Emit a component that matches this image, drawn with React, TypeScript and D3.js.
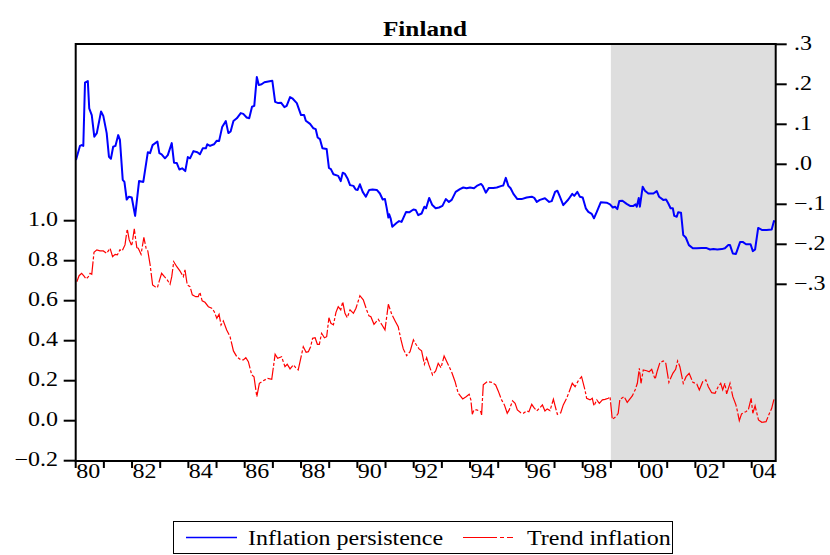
import React from "react";
import * as d3 from "d3";

// Inflation persistence (right axis)
const persistenceDates = [
  1980.01, 1980.15, 1980.21, 1980.27, 1980.33, 1980.43, 1980.48, 1980.57, 1980.66, 1980.75,
  1980.9, 1980.98, 1981.1, 1981.18, 1981.25, 1981.33, 1981.41, 1981.51, 1981.57, 1981.67,
  1981.73, 1981.81, 1981.89, 1981.99, 1982.11, 1982.25, 1982.4, 1982.56, 1982.64, 1982.73,
  1982.9, 1982.97, 1983.05, 1983.17, 1983.27, 1983.41, 1983.49, 1983.59, 1983.68, 1983.78,
  1983.89, 1983.98, 1984.06, 1984.18, 1984.32, 1984.41, 1984.51, 1984.62, 1984.67, 1984.77,
  1984.91, 1985.01, 1985.09, 1985.2, 1985.33, 1985.42, 1985.5, 1985.6, 1985.72, 1985.86,
  1985.95, 1986.07, 1986.16, 1986.26, 1986.34, 1986.43, 1986.5, 1986.6, 1986.7, 1986.84,
  1986.98, 1987.08, 1987.19, 1987.29, 1987.41, 1987.49, 1987.61, 1987.69, 1987.85, 1988.0,
  1988.11, 1988.17, 1988.32, 1988.44, 1988.52, 1988.59, 1988.67, 1988.76, 1988.91, 1988.99,
  1989.06, 1989.15, 1989.32, 1989.41, 1989.48, 1989.56, 1989.66, 1989.74, 1989.86, 1989.94,
  1990.01, 1990.09, 1990.19, 1990.3, 1990.42, 1990.54, 1990.69, 1990.8, 1990.9, 1990.98,
  1991.04, 1991.1, 1991.13, 1991.18, 1991.24, 1991.4, 1991.48, 1991.57, 1991.73, 1991.84,
  1991.99, 1992.07, 1992.16, 1992.28, 1992.38, 1992.44, 1992.55, 1992.66, 1992.78, 1992.9,
  1993.02, 1993.14, 1993.25, 1993.35, 1993.49, 1993.64, 1993.76, 1993.88, 1994.0, 1994.14,
  1994.24, 1994.39, 1994.45, 1994.56, 1994.67, 1994.83, 1994.95, 1995.12, 1995.18, 1995.27,
  1995.36, 1995.44, 1995.54, 1995.68, 1995.83, 1996.01, 1996.19, 1996.28, 1996.37, 1996.48,
  1996.66, 1996.81, 1996.9, 1997.02, 1997.1, 1997.19, 1997.31, 1997.49, 1997.63, 1997.7,
  1997.81, 1997.9, 1998.0, 1998.11, 1998.2, 1998.32, 1998.4, 1998.5, 1998.64, 1998.85,
  1998.97, 1999.07, 1999.15, 1999.23, 1999.3, 1999.41, 1999.56, 1999.68, 1999.8, 1999.88,
  1999.92, 1999.99, 2000.03, 2000.13, 2000.21, 2000.33, 2000.51, 2000.63, 2000.71, 2000.86,
  2000.96, 2001.04, 2001.12, 2001.2, 2001.25, 2001.34, 2001.39, 2001.49, 2001.57, 2001.66,
  2001.77, 2001.91, 2002.05, 2002.22, 2002.38, 2002.52, 2002.64, 2002.78, 2002.94, 2003.05,
  2003.17, 2003.23, 2003.33, 2003.44, 2003.59, 2003.68, 2003.8, 2003.96, 2004.04, 2004.12,
  2004.23, 2004.36, 2004.53, 2004.71, 2004.79, 2004.83,
];
const persistenceValues = [
  0.011, 0.046, 0.048, 0.046, 0.204, 0.208, 0.14, 0.123, 0.069, 0.078,
  0.132, 0.121, 0.078, 0.019, 0.014, 0.044, 0.046, 0.073, 0.061, -0.039,
  -0.044, -0.088, -0.081, -0.083, -0.129, -0.042, -0.044, 0.03, 0.028, 0.048,
  0.057, 0.028, 0.025, 0.015, 0.023, 0.053, 0.004, 0.003, -0.013, -0.01,
  -0.017, 0.018, 0.015, 0.033, 0.03, 0.025, 0.04, 0.04, 0.05, 0.046,
  0.05, 0.059, 0.058, 0.093, 0.108, 0.078, 0.082, 0.108, 0.115, 0.128,
  0.126, 0.117, 0.115, 0.144, 0.146, 0.218, 0.198, 0.2, 0.205, 0.207,
  0.209, 0.156, 0.153, 0.154, 0.143, 0.146, 0.168, 0.165, 0.153, 0.123,
  0.123, 0.109, 0.101, 0.09, 0.088, 0.067, 0.063, 0.04, 0.038, -0.009,
  -0.012, -0.025, -0.029, -0.042, -0.021, -0.024, -0.037, -0.052, -0.054, -0.063,
  -0.064, -0.05, -0.069, -0.081, -0.064, -0.063, -0.064, -0.073, -0.088, -0.087,
  -0.109, -0.133, -0.125, -0.135, -0.156, -0.146, -0.142, -0.144, -0.119, -0.12,
  -0.113, -0.114, -0.127, -0.123, -0.106, -0.11, -0.084, -0.102, -0.11, -0.108,
  -0.104, -0.087, -0.094, -0.089, -0.069, -0.062, -0.058, -0.06, -0.058, -0.06,
  -0.054, -0.049, -0.054, -0.071, -0.059, -0.059, -0.058, -0.054, -0.053, -0.034,
  -0.054, -0.06, -0.074, -0.087, -0.087, -0.083, -0.081, -0.084, -0.094, -0.089,
  -0.085, -0.094, -0.092, -0.069, -0.066, -0.081, -0.102, -0.088, -0.074, -0.079,
  -0.069, -0.081, -0.083, -0.11, -0.119, -0.124, -0.135, -0.119, -0.095, -0.096,
  -0.1, -0.108, -0.106, -0.112, -0.092, -0.091, -0.099, -0.104, -0.104, -0.1,
  -0.106, -0.084, -0.106, -0.056, -0.066, -0.073, -0.073, -0.067, -0.081, -0.089,
  -0.088, -0.098, -0.11, -0.11, -0.129, -0.131, -0.12, -0.121, -0.177, -0.183,
  -0.202, -0.21, -0.21, -0.209, -0.209, -0.213, -0.212, -0.213, -0.212, -0.21,
  -0.202, -0.202, -0.223, -0.224, -0.194, -0.194, -0.2, -0.2, -0.217, -0.213,
  -0.159, -0.164, -0.164, -0.163, -0.142, -0.144,
];

// Trend inflation (left axis)
const trendDates = [
  1980.04, 1980.12, 1980.21, 1980.29, 1980.37, 1980.45, 1980.51, 1980.57, 1980.65, 1980.75,
  1980.86, 1980.98, 1981.1, 1981.22, 1981.31, 1981.4, 1981.48, 1981.57, 1981.65, 1981.75,
  1981.83, 1981.9, 1981.99, 1982.08, 1982.17, 1982.22, 1982.32, 1982.42, 1982.5, 1982.56,
  1982.64, 1982.73, 1982.82, 1982.9, 1982.96, 1983.05, 1983.15, 1983.25, 1983.35, 1983.41,
  1983.48, 1983.59, 1983.7, 1983.82, 1983.88, 1983.96, 1984.06, 1984.14, 1984.26, 1984.35,
  1984.41, 1984.49, 1984.59, 1984.71, 1984.83, 1984.92, 1985.01, 1985.09, 1985.16, 1985.24,
  1985.36, 1985.48, 1985.6, 1985.72, 1985.86, 1985.95, 1986.04, 1986.13, 1986.25, 1986.33,
  1986.43, 1986.52, 1986.66, 1986.82, 1986.96, 1987.08, 1987.17, 1987.31, 1987.43, 1987.51,
  1987.61, 1987.73, 1987.81, 1987.9, 1988.08, 1988.18, 1988.26, 1988.34, 1988.41, 1988.5,
  1988.58, 1988.65, 1988.73, 1988.83, 1988.91, 1988.99, 1989.06, 1989.15, 1989.24, 1989.32,
  1989.41, 1989.48, 1989.56, 1989.64, 1989.74, 1989.86, 1989.95, 1990.09, 1990.21, 1990.33,
  1990.41, 1990.48, 1990.59, 1990.74, 1990.86, 1990.98, 1991.1, 1991.22, 1991.34, 1991.45,
  1991.55, 1991.63, 1991.75, 1991.87, 1991.99, 1992.08, 1992.19, 1992.28, 1992.38, 1992.46,
  1992.54, 1992.67, 1992.78, 1992.87, 1992.97, 1993.08, 1993.23, 1993.35, 1993.47, 1993.58,
  1993.74, 1993.86, 1993.97, 1994.03, 1994.08, 1994.14, 1994.24, 1994.38, 1994.41, 1994.47,
  1994.61, 1994.77, 1994.91, 1995.0, 1995.12, 1995.22, 1995.32, 1995.39, 1995.51, 1995.6,
  1995.68, 1995.8, 1995.89, 1996.01, 1996.09, 1996.19, 1996.27, 1996.37, 1996.48, 1996.57,
  1996.66, 1996.74, 1996.84, 1996.96, 1997.02, 1997.1, 1997.22, 1997.31, 1997.43, 1997.52,
  1997.63, 1997.73, 1997.84, 1997.96, 1998.08, 1998.14, 1998.26, 1998.34, 1998.4, 1998.5,
  1998.59, 1998.7, 1998.79, 1998.91, 1998.97, 1999.05, 1999.18, 1999.26, 1999.32, 1999.47,
  1999.58, 1999.76, 1999.86, 1999.94, 2000.01, 2000.07, 2000.15, 2000.27, 2000.36, 2000.45,
  2000.57, 2000.65, 2000.74, 2000.86, 2000.95, 2001.06, 2001.2, 2001.3, 2001.37, 2001.45,
  2001.57, 2001.67, 2001.78, 2001.91, 2002.05, 2002.14, 2002.26, 2002.37, 2002.46, 2002.58,
  2002.7, 2002.81, 2002.9, 2002.97, 2003.05, 2003.11, 2003.23, 2003.33, 2003.44, 2003.49,
  2003.56, 2003.64, 2003.79, 2003.88, 2003.98, 2004.04, 2004.12, 2004.24, 2004.36, 2004.51,
  2004.62, 2004.71, 2004.79,
];
const trendValues = [
  0.695, 0.725, 0.737, 0.724, 0.709, 0.72, 0.737, 0.732, 0.842, 0.854,
  0.849, 0.849, 0.837, 0.862, 0.82, 0.832, 0.829, 0.854, 0.849, 0.879,
  0.959, 0.904, 0.874, 0.959, 0.865, 0.862, 0.832, 0.917, 0.862, 0.849,
  0.782, 0.679, 0.67, 0.665, 0.695, 0.737, 0.72, 0.704, 0.682, 0.72,
  0.795, 0.77, 0.749, 0.72, 0.754, 0.679, 0.67, 0.629, 0.62, 0.62,
  0.642, 0.599, 0.592, 0.57, 0.562, 0.545, 0.512, 0.532, 0.479, 0.499,
  0.454, 0.42, 0.349, 0.32, 0.304, 0.304, 0.315, 0.295, 0.229, 0.22,
  0.12, 0.187, 0.2, 0.212, 0.207, 0.332, 0.312, 0.32, 0.27, 0.282,
  0.259, 0.279, 0.265, 0.254, 0.37, 0.342, 0.345, 0.37, 0.412, 0.415,
  0.382, 0.382, 0.437, 0.415, 0.42, 0.515, 0.487, 0.479, 0.542, 0.57,
  0.554, 0.595, 0.537, 0.515, 0.554, 0.537, 0.562, 0.625, 0.604, 0.554,
  0.524, 0.52, 0.482, 0.507, 0.482, 0.454, 0.582, 0.532, 0.499, 0.47,
  0.404, 0.359, 0.325, 0.345, 0.404, 0.382, 0.359, 0.349, 0.282, 0.315,
  0.279, 0.229, 0.249, 0.287, 0.265, 0.324, 0.279, 0.242, 0.195, 0.137,
  0.109, 0.12, 0.132, 0.104, 0.032, 0.054, 0.054, 0.045, 0.029, 0.179,
  0.195, 0.192, 0.179, 0.149, 0.104, 0.079, 0.037, 0.054, 0.099, 0.087,
  0.054, 0.04, 0.037, 0.049, 0.045, 0.082, 0.065, 0.049, 0.065, 0.079,
  0.049, 0.059, 0.051, 0.107, 0.074, 0.032, 0.04, 0.079, 0.112, 0.145,
  0.187, 0.17, 0.199, 0.22, 0.154, 0.112, 0.104, 0.112, 0.074, 0.104,
  0.087, 0.104, 0.107, 0.112, 0.12, 0.007, 0.02, 0.037, 0.107, 0.12,
  0.092, 0.124, 0.154, 0.187, 0.262, 0.187, 0.254, 0.25, 0.245, 0.257,
  0.207, 0.25, 0.29, 0.299, 0.287, 0.192, 0.237, 0.257, 0.299, 0.27,
  0.187, 0.22, 0.237, 0.192, 0.184, 0.154, 0.195, 0.204, 0.17, 0.14,
  0.137, 0.17, 0.187, 0.154, 0.187, 0.134, 0.187, 0.12, 0.079, 0.049,
  0.0, 0.034, 0.045, 0.054, 0.112, 0.037, 0.074, 0.004, -0.008, -0.005,
  0.034, 0.062, 0.107,
];

const yearTicks = d3.range(1980, 2005);
const leftTicks = [-0.2, 0.0, 0.2, 0.4, 0.6, 0.8, 1.0];
const rightTicks = [-0.3, -0.2, -0.1, 0.0, 0.1, 0.2, 0.3];
const shadeStart = 1999;

const W = 830;
const H = 555;
const FONT = "'Liberation Serif', 'Times New Roman', serif";
const SX = 1.2; // text in the original is stretched horizontally

function Label({ x, y, anchor = "start", size = 20, weight = "normal", children }: any) {
  return (
    <text
      transform={`translate(${x},${y}) scale(${SX},1)`}
      textAnchor={anchor}
      fontFamily={FONT}
      fontSize={size}
      fontWeight={weight}
      fill="#000"
    >
      {children}
    </text>
  );
}

export default function App() {
  const left = 75.7;
  const right = 775.7;
  const top = 44;
  const bottom = 461;

  const x = d3.scaleLinear().domain([1980, 2004.852]).range([left, right]);
  const yLeft = d3.scaleLinear().domain([-0.2, 1.0]).range([460.7, 220.7]);
  const yRight = d3.scaleLinear().domain([-0.3, 0.3]).range([284.3, 44.3]);

  const persistence = persistenceDates.map((t, i) => [t, persistenceValues[i]]);
  const trend = trendDates.map((t, i) => [t, trendValues[i]]);

  const bluePath = d3
    .line<number[]>()
    .x((d) => x(d[0]))
    .y((d) => yRight(d[1]))(persistence);
  const redPath = d3
    .line<number[]>()
    .x((d) => x(d[0]))
    .y((d) => yLeft(d[1]))(trend);

  const fmtLeft = d3.format(".1f");
  const fmtRight = (v: number) => d3.format(".1f")(v).replace("0.", ".");

  return (
    <svg
      width={W}
      height={H}
      style={{ position: "absolute", left: 0, top: 0, background: "#fff" }}
    >
      <rect x={0} y={0} width={W} height={H} fill="#fff" />
      {/* forecast period shading */}
      <rect
        x={x(shadeStart)}
        y={top}
        width={right - x(shadeStart)}
        height={bottom - top}
        fill="#dedede"
      />

      <path d={redPath || ""} fill="none" stroke="#ff0000" strokeWidth={1.2} strokeDasharray="16,2,3,2" />
      <path d={bluePath || ""} fill="none" stroke="#0000ff" strokeWidth={2} strokeLinejoin="round" />

      {/* frame */}
      <rect x={left} y={top} width={right - left} height={bottom - top} fill="none" stroke="#000" strokeWidth={2} />

      {/* left axis */}
      {leftTicks.map((v) => (
        <g key={"l" + v}>
          <line x1={left - 12} x2={left} y1={yLeft(v)} y2={yLeft(v)} stroke="#000" strokeWidth={2} />
          <Label x={58} y={yLeft(v) + 5} anchor="end">
            {fmtLeft(v)}
          </Label>
        </g>
      ))}

      {/* right axis */}
      {rightTicks.map((v) => (
        <g key={"r" + v}>
          <line x1={right} x2={right + 11} y1={yRight(v)} y2={yRight(v)} stroke="#000" strokeWidth={2} />
          <Label x={794} y={yRight(v) + 6}>
            {fmtRight(v)}
          </Label>
        </g>
      ))}

      {/* bottom axis */}
      {yearTicks.map((yr) => (
        <g key={"x" + yr}>
          <line x1={x(yr)} x2={x(yr)} y1={bottom} y2={bottom + 7} stroke="#000" strokeWidth={2} />
          {yr % 2 === 0 && (
            <Label x={x(yr) + 0.5} y={478}>
              {String(yr).slice(2)}
            </Label>
          )}
        </g>
      ))}

      <Label x={425} y={36} anchor="middle" size={21} weight="bold">
        Finland
      </Label>

      {/* legend */}
      <rect x={173.5} y={521.5} width={499} height={32} fill="#fff" stroke="#000" strokeWidth={1} />
      <line x1={186} x2={237} y1={537.5} y2={537.5} stroke="#0000ff" strokeWidth={1.5} />
      <Label x={248} y={545}>Inflation persistence</Label>
      <line x1={463} x2={515} y1={537.5} y2={537.5} stroke="#ff0000" strokeWidth={1.2} strokeDasharray="34,3,4,3,6,10" />
      <Label x={527} y={545}>Trend inflation</Label>
    </svg>
  );
}
